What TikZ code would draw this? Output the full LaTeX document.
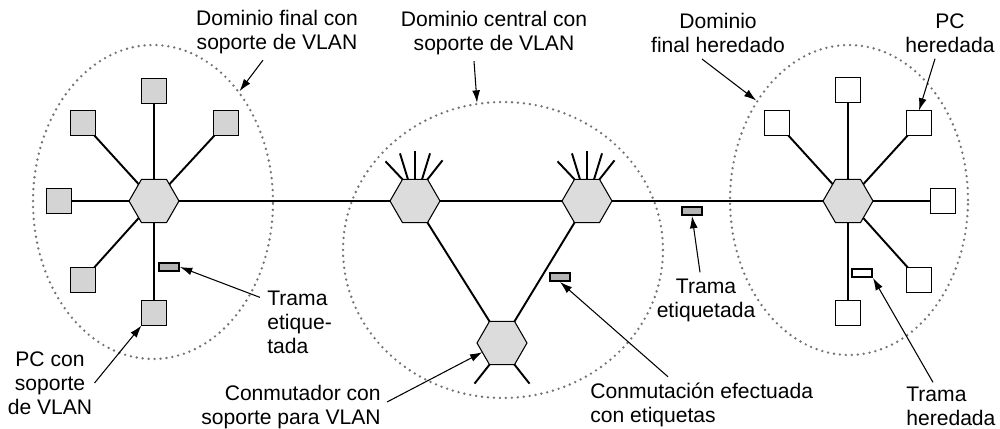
\documentclass[tikz,border=0pt]{standalone}
\usepackage{fontspec}
\setmainfont{Liberation Sans}
\usetikzlibrary{arrows.meta,positioning,shapes.geometric,calc}
\definecolor{PCGray}{RGB}{212,212,212}
\definecolor{HubGray}{RGB}{220,220,220}
\definecolor{FrameGray}{RGB}{180,180,180}
\definecolor{DotGray}{RGB}{115,115,115}
\tikzset{
  pc/.style={draw=black,fill=PCGray,line width=0.5pt,minimum size=0.5cm,
    inner sep=0pt,outer sep=0pt},
  oldpc/.style={pc,fill=white},
  hub/.style={regular polygon,regular polygon sides=6,draw=black,fill=HubGray,
    line width=0.6pt,minimum size=1cm,inner sep=0pt,outer sep=0pt},
  tagframe/.style={draw=black,fill=FrameGray,line width=1.1pt,minimum width=0.4cm,
    minimum height=0.16cm,inner sep=0pt},
  oldframe/.style={tagframe,fill=white},
  vlanzone/.style={ellipse,draw=DotGray,line width=1.5pt,dash pattern=on 0pt off 3.4pt,
    line cap=round,inner sep=0pt},
  link/.style={line width=1.1pt,black},
  arrow/.style={-{Latex[length=7pt,width=4.5pt]},line width=0.6pt},
  note/.style={font=\fontsize{12}{13.6}\selectfont,inner sep=0pt}
}

\begin{document}
\begin{tikzpicture}[x=0.02cm,y=-0.02cm]
\useasboundingbox (0,0) rectangle (1000,429);

% domains
\node[vlanzone,minimum width=4.8cm,minimum height=6.28cm] (dl) at (153,202) {};
\node[vlanzone,minimum width=6.4cm,minimum height=5.92cm] (dc) at (503,250) {};
\node[vlanzone,minimum width=4.76cm,minimum height=6.2cm] (dr) at (849,200) {};

% switches
\node[hub] (hl) at (154,201) {};
\node[hub] (hcl) at (415,201) {};
\node[hub] (hcr) at (587,201) {};
\node[hub] (hb) at (502,343) {};
\node[hub] (hr) at (848,201) {};

% VLAN PCs
\node[pc] (pvt) at (154,91) {};
\node[pc] (pvul) at (83,123) {};
\node[pc] (pvur) at (226,123) {};
\node[pc] (pvl) at (59,201) {};
\node[pc] (pvll) at (83,280) {};
\node[pc] (pvb) at (154,313) {};

% legacy PCs
\node[oldpc] (plt) at (848,90) {};
\node[oldpc] (plul) at (777,123) {};
\node[oldpc] (plur) at (919,123) {};
\node[oldpc] (plr) at (943,201) {};
\node[oldpc] (pllr) at (919,280) {};
\node[oldpc] (plb) at (848,313) {};

\foreach \p in {pvt,pvul,pvur,pvl,pvll,pvb}
  \draw[link] (hl) -- (\p);
\foreach \p in {plt,plul,plur,plr,pllr,plb}
  \draw[link] (hr) -- (\p);

\draw[link] (hl) -- (hcl) -- (hcr) -- (hr);
\draw[link] (hcl.300) -- (hb.120);
\draw[link] (hcr.240) -- (hb.60);

\foreach \h in {hcl,hcr}
  \foreach \a/\dx/\dy in {120/-17/-18,108/-8/-26,90/0/-28,72/8/-26,60/15/-19}
    \draw[link] (\h.\a) -- ++(\dx,\dy);
\draw[link] (hb.240) -- ++(-15,19);
\draw[link] (hb.300) -- ++(15,19);

% frames
\node[tagframe] (fv) at (169,267) {};
\node[tagframe] (ft) at (692,211) {};
\node[tagframe] (fc) at (560,277) {};
\node[oldframe] (fo) at (862,273) {};

% labels
\node[note,align=center] (tdl) at (277,32) {Dominio final con\\soporte de VLAN};
\node[note,align=center] (tdc) at (494,33) {Dominio central con\\soporte de VLAN};
\node[note,align=center] (tdr) at (718,33) {Dominio\\final heredado};
\node[note,align=center] (tpc) at (950,33) {PC\\heredada};
\node[note,align=center] (tte) at (706,300) {Trama\\etiquetada};
\node[note,align=left,anchor=west] (tetq) at (267,322) {Trama\\etique-\\tada};
\node[note,align=center] (tpcv) at (50,383) {PC con\\soporte\\de VLAN};
\node[note,align=right,anchor=east] (tsw) at (381,407) {Conmutador con\\soporte para VLAN};
\node[note,align=left,anchor=west] (tce) at (590,405) {Conmutación efectuada\\con etiquetas};
\node[note,align=left,anchor=west] (tth) at (906,406) {Trama\\heredada};

\draw[arrow] ([xshift=-0.28cm,yshift=-0.12cm]tdl.south) -- (dl.52);
\draw[arrow] ([xshift=-0.4cm,yshift=-0.12cm]tdc.south) -- (dc.100);
\draw[arrow] ([xshift=-0.32cm,yshift=-0.12cm]tdr.south) -- (dr.133);
\draw[arrow] ([xshift=-0.3cm,yshift=-0.12cm]tpc.south) -- (plur.north);
\draw[arrow] ([xshift=-0.12cm,yshift=0.12cm]tte.north) -- (ft.south);
\draw[arrow] ([xshift=-0.14cm,yshift=-0.14cm]tetq.north west) -- (fv.east);
\draw[arrow] ([xshift=0.04cm]tpcv.east) -- (pvb.south west);
\draw[arrow] ([xshift=0.12cm,yshift=0.1cm]tsw.east) -- (hb.205);
\draw[arrow] ([xshift=1.56cm,yshift=0.12cm]tce.north west) -- (fc.south);
\draw[arrow] ([xshift=0.54cm,yshift=0.08cm]tth.north west) -- (fo.south east);

\end{tikzpicture}
\end{document}
